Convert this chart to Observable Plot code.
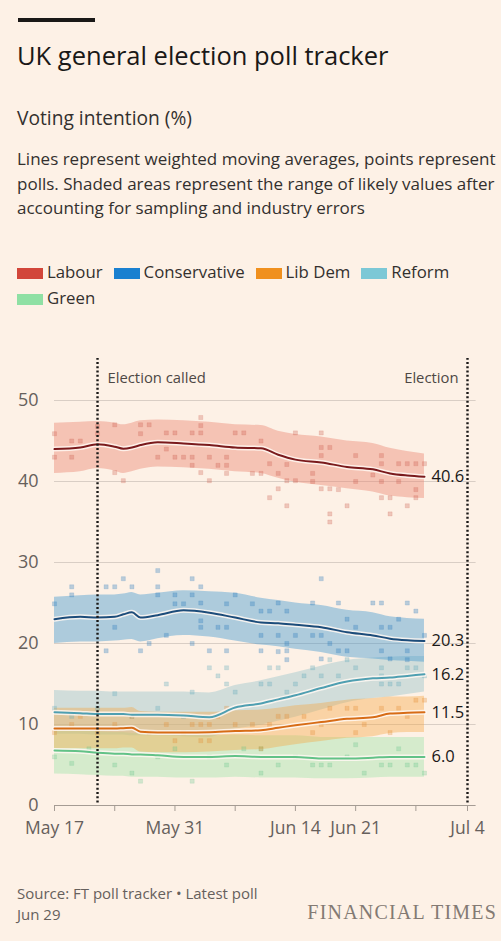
<!DOCTYPE html>
<html>
<head>
<meta charset="utf-8">
<script src="https://cdn.jsdelivr.net/npm/d3@7"></script>
<script src="https://cdn.jsdelivr.net/npm/@observablehq/plot@0.6"></script>
<style>
  html, body { margin: 0; padding: 0; }
  body { width: 501px; height: 941px; overflow: hidden; background: #fdf1e6; position: relative;
         font-family: "Open Sans", Lato, sans-serif; color: #33302e; }
  .abs { position: absolute; white-space: nowrap; }
  #bar { left: 18px; top: 18px; width: 77px; height: 4px; background: #1a1817; }
  #title { left: 17px; top: 42px; font-size: 25.5px; line-height: 26px; color: #1a1817; }
  #sub { left: 17px; top: 108px; font-size: 19.2px; line-height: 19px; color: #33302e; }
  #desc { left: 17px; top: 147px; font-size: 17px; line-height: 24.5px; color: #33302e; }
  #legend { left: 17px; top: 259px; width: 475px; font-size: 16.8px; line-height: 26px; color: #33302e; white-space: normal; }
  .item { display: inline-block; margin-right: 11px; white-space: nowrap; }
  .sw { display: inline-block; width: 26px; height: 11px; margin-right: 4px; vertical-align: -1px; }
  #chart { left: 0; top: 345px; }
  #source { left: 17px; top: 883px; font-size: 15px; line-height: 21px; color: #66605c; }
  #ft { right: 4px; top: 901px; font-family: "Liberation Serif", "DejaVu Serif", serif; font-size: 20px; letter-spacing: 1.2px; color: #837a73; }
</style>
</head>
<body>
<div id="bar" class="abs"></div>
<div id="title" class="abs">UK general election poll tracker</div>
<div id="sub" class="abs">Voting intention (%)</div>
<div id="desc" class="abs">Lines represent weighted moving averages, points represent<br>polls. Shaded areas represent the range of likely values after<br>accounting for sampling and industry errors</div>
<div id="legend" class="abs"></div>
<div id="chart" class="abs"></div>
<div id="source" class="abs">Source: FT poll tracker • Latest poll<br>Jun 29</div>
<div id="ft" class="abs">FINANCIAL TIMES</div>
<script>
// ---------- data ----------
const parties = ["Labour", "Conservative", "Lib Dem", "Reform", "Green"];
const legendColors = ["#d2463a", "#1a80d0", "#f0901e", "#7cc8d6", "#8fe0a4"];

// days since May 17 2024
const trendDays = [0, 3, 5, 7, 8, 9, 10, 12, 15, 18, 21, 24, 26, 28, 31, 34, 37, 39, 41, 43];

const labourMid = [44.0, 44.2, 44.6, 44.3, 44.05, 44.2, 44.5, 44.85, 44.7, 44.5, 44.2, 44.1, 43.3, 42.7, 42.35, 41.8, 41.5, 41.0, 40.75, 40.6];
const labourHi  = [47.2, 47.3, 47.4, 47.2, 47.0, 47.2, 47.5, 47.6, 47.5, 47.3, 47.0, 46.9, 46.2, 45.8, 45.5, 45.0, 44.7, 44.1, 43.7, 43.4];
const labourLo  = [41.0, 41.2, 41.6, 41.3, 41.0, 41.2, 41.5, 41.8, 41.7, 41.5, 41.2, 41.0, 40.4, 39.9, 39.5, 39.1, 38.7, 38.2, 38.0, 37.9];

const conMid = [23.0, 23.3, 23.2, 23.3, 23.6, 23.85, 23.2, 23.5, 24.1, 23.8, 23.2, 22.6, 22.5, 22.3, 22.0, 21.4, 21.0, 20.6, 20.4, 20.3];
const conHi  = [25.7, 25.9, 26.0, 26.0, 26.1, 26.3, 26.0, 26.2, 26.5, 26.4, 26.2, 25.6, 25.3, 25.0, 24.7, 24.1, 23.8, 23.3, 23.1, 23.0];
const conLo  = [20.0, 20.2, 20.2, 20.3, 20.4, 20.5, 20.2, 20.6, 21.0, 20.8, 20.3, 19.8, 19.6, 19.3, 18.9, 18.3, 18.1, 17.9, 17.8, 17.7];

const ldMid = [9.5, 9.5, 9.5, 9.5, 9.55, 9.6, 9.1, 9.0, 9.0, 9.05, 9.2, 9.3, 9.6, 9.9, 10.3, 10.7, 10.9, 11.35, 11.45, 11.5];
const ldHi  = [12.0, 12.0, 12.0, 12.0, 12.0, 12.1, 11.6, 11.5, 11.5, 11.5, 11.7, 11.8, 12.0, 12.3, 12.6, 13.0, 13.2, 13.4, 13.4, 13.5];
const ldLo  = [7.0, 7.0, 7.0, 7.0, 7.1, 7.1, 6.6, 6.5, 6.5, 6.6, 6.8, 6.9, 7.2, 7.5, 7.9, 8.3, 8.5, 8.9, 9.0, 9.0];

const refMid = [11.5, 11.4, 11.3, 11.3, 11.3, 11.2, 11.2, 11.2, 11.1, 10.9, 12.1, 12.6, 13.1, 13.6, 14.5, 15.3, 15.7, 15.8, 16.0, 16.2];
const refHi  = [14.2, 14.1, 14.1, 14.0, 14.0, 14.0, 14.0, 14.0, 14.0, 13.9, 14.8, 15.4, 15.9, 16.4, 17.2, 17.9, 18.2, 18.3, 18.4, 18.4];
const refLo  = [8.8, 8.8, 8.7, 8.7, 8.7, 8.6, 8.6, 8.6, 8.5, 8.4, 9.4, 9.9, 10.4, 10.9, 11.8, 12.7, 13.2, 13.4, 13.7, 14.0];

const greenMid = [6.8, 6.7, 6.5, 6.4, 6.4, 6.3, 6.3, 6.2, 6.0, 6.0, 6.1, 6.0, 6.0, 6.0, 5.8, 5.8, 5.9, 6.0, 6.0, 6.0];
const greenHi  = [9.4, 9.3, 9.1, 9.0, 9.0, 8.9, 8.9, 8.8, 8.6, 8.6, 8.7, 8.6, 8.6, 8.6, 8.4, 8.4, 8.4, 8.4, 8.4, 8.4];
const greenLo  = [3.9, 3.8, 3.7, 3.6, 3.6, 3.5, 3.5, 3.5, 3.4, 3.4, 3.5, 3.4, 3.4, 3.4, 3.3, 3.3, 3.4, 3.5, 3.5, 3.5];

// polls: [day since May 17, value]
const labourPolls = [[0,45.9],[0,43],[2,43],[2,45],[3,45],[5,46.8],[5,45.9],[7,47],[7,41.1],[8,40.1],[10,47],[10,45.9],[11,47],[12,43],[13,44],[13,46],[14,46],[14,43],[15,43],[16,46],[16,43],[16,42],[17,47.9],[17,46.9],[17,46],[17,41.1],[18,43],[18,40.1],[19,42],[20,43],[20,42],[20,41],[21,46],[22,46],[24,45],[23,41],[24,41],[25,42.2],[26,41],[26,39.1],[25,38],[27,42.1],[27,40.1],[27,37],[28,46],[28,40.1],[30,41],[30,40],[31,46],[31,44.2],[31,43.2],[32,44.2],[31,39.1],[32,39.1],[32,36],[32,35],[33,39],[34,37],[35,43.2],[35,40],[37,40.8],[38,43.2],[38,42.2],[38,40],[38,38],[39,38],[39,36],[40,42.2],[40,40],[41,42.2],[41,37],[42,42.2],[42,39],[42,38],[43,42.2]];
const conPolls = [[0,24.9],[2,27],[2,26],[6,27],[7,27],[7,22],[8,28],[9,27],[6,19.1],[10,19.1],[11,20],[12,29],[12,27],[12,26],[13,21],[14,26],[14,24.9],[15,24.9],[16,28],[16,26],[16,20],[17,27],[17,25],[17,22.8],[17,22],[18,19.1],[19,22],[20,24.9],[20,22],[20,19.1],[21,26],[23,24.9],[24,24],[24,21],[24,19.1],[25,24],[26,25],[26,21],[26,19],[27,24],[27,20],[27,19.1],[27,18],[28,21],[30,25],[30,21],[31,28],[31,21],[31,18.1],[32,20],[33,25],[33,19.1],[34,23],[34,19.1],[35,22],[37,25],[38,25],[38,22],[38,19.1],[39,22],[39,18.1],[40,23],[41,25],[41,19.1],[41,18],[42,24],[43,21]];
const ldPolls = [[0,9],[2,10],[3,11],[5,9],[7,10],[9,11],[11,9],[13,10],[14,8],[15,9],[16,10],[17,8],[17,10],[18,8],[18,10],[19,11],[20,12],[21,10],[23,10],[24,7],[25,10],[26,11],[27,11],[29,11],[30,9],[31,10],[32,12],[34,12],[35,9],[35,12],[36,10],[38,12],[39,9],[40,12],[41,11],[42,13],[43,13]];
const refPolls = [[0,12],[2,11],[5,12],[7,13.8],[9,11],[12,12],[13,15],[15,11],[16,14],[18,17],[19,16],[20,17],[20,15],[21,14],[24,15],[25,17],[25,15],[26,17],[27,14],[28,15],[29,16],[30,17],[31,16],[32,18],[33,16],[34,18],[35,17],[38,17],[38,16],[38,15],[39,15],[40,15],[41,17],[42,17],[43,16]];
const greenPolls = [[0,6],[2,5.2],[4,7],[7,5],[9,4],[10,3],[12,6],[14,7],[16,3],[18,6],[20,5],[22,7],[24,4],[24,7],[26,5],[28,6],[30,5],[31,5],[32,5],[34,6],[35,7.5],[36,4],[38,5],[39,5],[40,7],[41,5],[42,5],[43,4]];

const electionCalled = "2024-05-22";
const electionDay = "2024-07-04";
const tickDates = ["2024-05-17","2024-05-24","2024-05-31","2024-06-07","2024-06-14","2024-06-21","2024-06-28","2024-07-04"];
const tickLabels = ["May 17","","May 31","","Jun 14","Jun 21","","Jul 4"];
const gridValues = [10, 20, 30, 40, 50];

// ---------- build tables ----------
const start = new Date(Date.UTC(2024, 4, 17));
const toDate = d => d3.utcDay.offset(start, d);

const styles = {
  "Labour":       {band: "#ea8370", bandOp: 0.42, line: "#7a1a1c", pt: "#c85446", ptOp: 0.28},
  "Conservative": {band: "#3e97cf", bandOp: 0.42, line: "#1c4c7a", pt: "#2a7bbd", ptOp: 0.32},
  "Reform":       {band: "#9cc6cc", bandOp: 0.45, line: "#4f9fb1", pt: "#5eaabb", ptOp: 0.3},
  "Lib Dem":      {band: "#f6a844", bandOp: 0.40, line: "#d76c16", pt: "#e38a32", ptOp: 0.3},
  "Green":        {band: "#a3e5ad", bandOp: 0.45, line: "#62c287", pt: "#66c48a", ptOp: 0.28}
};
const trendSrc = {
  "Labour": [labourMid, labourLo, labourHi],
  "Conservative": [conMid, conLo, conHi],
  "Reform": [refMid, refLo, refHi],
  "Lib Dem": [ldMid, ldLo, ldHi],
  "Green": [greenMid, greenLo, greenHi]
};
const pollSrc = {"Labour": labourPolls, "Conservative": conPolls, "Reform": refPolls, "Lib Dem": ldPolls, "Green": greenPolls};
const drawOrder = ["Reform", "Green", "Lib Dem", "Conservative", "Labour"];

const trends = {};
for (const p of drawOrder) {
  const [m, lo, hi] = trendSrc[p];
  trends[p] = trendDays.map((d, i) => ({date: toDate(d), mid: m[i], lo: lo[i], hi: hi[i]}));
}
const polls = {};
for (const p of drawOrder) polls[p] = pollSrc[p].map(([d, v]) => ({date: toDate(d), v}));

const lastLabels = drawOrder.map(p => {
  const t = trends[p][trends[p].length - 1];
  return {date: t.date, v: t.mid, label: t.mid.toFixed(1)};
});

// ---------- legend ----------
const leg = document.getElementById("legend");
parties.forEach((p, i) => {
  const s = document.createElement("span");
  s.className = "item";
  s.innerHTML = `<span class="sw" style="background:${legendColors[i]}"></span>${p}`;
  leg.appendChild(s);
});

// ---------- chart ----------
const x0 = new Date(tickDates[0]);
const xEnd = new Date(electionDay);
const gridEnd = d3.utcDay.offset(xEnd, 1);

const marks = [];
marks.push(Plot.ruleY(gridValues, {x1: x0, x2: gridEnd, stroke: "#d9cec5", strokeWidth: 1}));
marks.push(Plot.ruleY([0], {x1: x0, x2: gridEnd, stroke: "#a59c94", strokeWidth: 1}));
for (const p of drawOrder) {
  const s = styles[p];
  marks.push(Plot.areaY(trends[p], {x: "date", y1: "lo", y2: "hi", fill: s.band, fillOpacity: s.bandOp, curve: "monotone-x"}));
}
for (const p of drawOrder) {
  const s = styles[p];
  marks.push(Plot.dot(polls[p], {x: "date", y: "v", symbol: "square", r: 2.3, fill: s.pt, fillOpacity: s.ptOp, stroke: s.pt, strokeOpacity: 0.25, strokeWidth: 0.6}));
}
for (const p of drawOrder) {
  const s = styles[p];
  marks.push(Plot.line(trends[p], {x: "date", y: "mid", stroke: "#fff8f2", strokeWidth: 5, strokeOpacity: 0.85, curve: "monotone-x"}));
  marks.push(Plot.line(trends[p], {x: "date", y: "mid", stroke: s.line, strokeWidth: 2, curve: "monotone-x"}));
}
marks.push(Plot.ruleX([new Date(electionCalled), xEnd], {y1: 0.3, y2: 55.2, stroke: "#1a1817", strokeWidth: 2.4, strokeDasharray: "2 2.3"}));
marks.push(Plot.text([{d: new Date(electionCalled), t: "Election called"}], {x: "d", y: 52.8, text: "t", textAnchor: "start", dx: 10, fontSize: 14.8, fill: "#4d4845"}));
marks.push(Plot.text([{d: xEnd, t: "Election"}], {x: "d", y: 52.8, text: "t", textAnchor: "end", dx: -9, fontSize: 14.8, fill: "#4d4845"}));
marks.push(Plot.text(lastLabels, {x: "date", y: "v", text: "label", textAnchor: "start", dx: 7, fontSize: 16.5, fontWeight: 500, fill: "#1a1817"}));
marks.push(Plot.axisY(gridValues.concat([0]), {tickSize: 0, tickPadding: 16, fontSize: 18, fill: "#66605c"}));
marks.push(Plot.axisX(tickDates.map(d => new Date(d)), {tickSize: 6, tickPadding: 10, fontSize: 17.5, fill: "#66605c", stroke: "#a59c94",
  tickFormat: (d) => tickLabels[tickDates.indexOf(d.toISOString().slice(0, 10))]}));

const chart = Plot.plot({
  width: 501,
  height: 510,
  marginLeft: 54,
  marginRight: 34,
  marginTop: 55,
  marginBottom: 50,
  x: {type: "utc", domain: [x0, xEnd]},
  y: {domain: [0, 50]},
  style: {background: "transparent", fontFamily: "'Open Sans', Lato, sans-serif", color: "#66605c", overflow: "visible"},
  marks
});
document.getElementById("chart").appendChild(chart);
</script>
</body>
</html>
